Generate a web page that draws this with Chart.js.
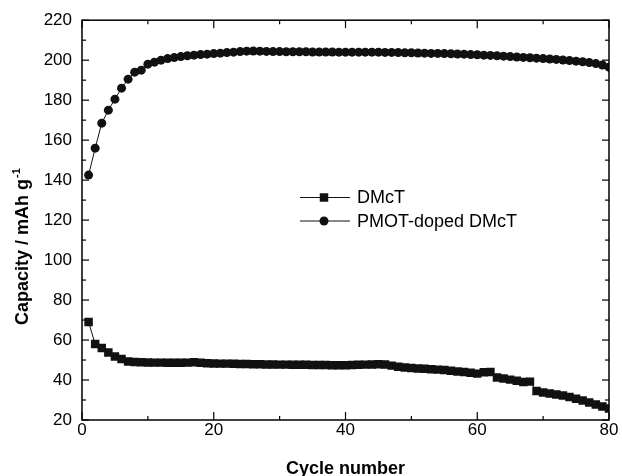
<!DOCTYPE html>
<html>
<head>
<meta charset="utf-8">
<script src="https://cdn.jsdelivr.net/npm/chart.js@4/dist/chart.umd.min.js"></script>
<style>
  html, body { margin: 0; padding: 0; background: #fff; }
  #wrap { width: 622px; height: 476px; position: relative; }
</style>
</head>
<body>
<div id="wrap"><canvas id="cap"></canvas></div>
<script>
// Discharge capacity vs. cycle number, DMcT and PMOT-doped DMcT.
const cycles = [
  1, 2, 3, 4, 5, 6, 7, 8, 9, 10, 11, 12, 13, 14, 15, 16, 17, 18, 19, 20,
  21, 22, 23, 24, 25, 26, 27, 28, 29, 30, 31, 32, 33, 34, 35, 36, 37, 38, 39, 40,
  41, 42, 43, 44, 45, 46, 47, 48, 49, 50, 51, 52, 53, 54, 55, 56, 57, 58, 59, 60,
  61, 62, 63, 64, 65, 66, 67, 68, 69, 70, 71, 72, 73, 74, 75, 76, 77, 78, 79, 80,
];
const dmct = [
  69, 58, 56, 53.8, 51.8, 50.5, 49.3, 49, 48.9, 48.8, 48.7, 48.7, 48.6, 48.6, 48.6, 48.7, 48.9, 48.6, 48.4, 48.3,
  48.2, 48.2, 48.1, 48, 48, 47.9, 47.9, 47.8, 47.8, 47.7, 47.7, 47.6, 47.6, 47.6, 47.5, 47.5, 47.5, 47.4, 47.4, 47.4,
  47.5, 47.6, 47.7, 47.8, 47.9, 47.8, 47.2, 46.6, 46.3, 46, 45.8, 45.6, 45.4, 45.2, 45, 44.6, 44.3, 44, 43.6, 43.2,
  43.9, 44, 41.3, 40.8, 40.2, 39.6, 39, 39.2, 34.5, 33.8, 33.2, 32.7, 32.2, 31.5, 30.6, 29.7, 28.8, 27.8, 26.8, 25.8,
];
const pmotDmct = [
  142.5, 156, 168.5, 175, 180.5, 186, 190.5, 194, 195, 198, 199, 200, 200.8, 201.3, 201.8, 202.2, 202.5, 202.8, 203, 203.3,
  203.5, 203.8, 204, 204.3, 204.5, 204.6, 204.5, 204.4, 204.3, 204.3, 204.2, 204.2, 204.2, 204.2, 204.1, 204.1, 204.1, 204.1, 204, 204,
  204, 204, 204, 204, 204, 203.9, 203.9, 203.8, 203.7, 203.7, 203.6, 203.5, 203.4, 203.4, 203.3, 203.2, 203.1, 203, 202.8, 202.7,
  202.5, 202.4, 202.2, 202, 201.8, 201.6, 201.4, 201.2, 201, 200.8, 200.6, 200.4, 200.1, 199.8, 199.5, 199.2, 198.8, 198.3, 197.6, 196.5,
];
const seriesLabels = ['DMcT', 'PMOT-doped DMcT'];
const xMajor = [0, 20, 40, 60, 80];
const xMinor = [10, 30, 50, 70];
const yMajor = [20, 40, 60, 80, 100, 120, 140, 160, 180, 200, 220];
const yMinor = [30, 50, 70, 90, 110, 130, 150, 170, 190, 210];

const FONT = "'Liberation Sans', Arial, Helvetica, sans-serif";
const INK = '#111';

function pts(ys) {
  return ys.map((v, i) => ({ x: cycles[i], y: v }));
}

function seg(ctx, x1, y1, x2, y2) {
  ctx.beginPath();
  ctx.moveTo(x1, y1);
  ctx.lineTo(x2, y2);
  ctx.stroke();
}

// frame with inward ticks on all four sides, plus titles and the legend
const framePlugin = {
  id: 'frame',
  afterDatasetsDraw(chart) {
    const { ctx, chartArea: a, scales: { x, y } } = chart;
    ctx.save();
    ctx.strokeStyle = '#000';
    ctx.lineWidth = 1.5;
    ctx.strokeRect(a.left, a.top, a.right - a.left, a.bottom - a.top);

    ctx.lineWidth = 1.2;
    xMajor.forEach((v) => {
      const px = x.getPixelForValue(v);
      seg(ctx, px, a.bottom, px, a.bottom - 8);
      seg(ctx, px, a.top, px, a.top + 8);
    });
    xMinor.forEach((v) => {
      const px = x.getPixelForValue(v);
      seg(ctx, px, a.bottom, px, a.bottom - 4);
      seg(ctx, px, a.top, px, a.top + 4);
    });
    yMajor.forEach((v) => {
      const py = y.getPixelForValue(v);
      seg(ctx, a.left, py, a.left + 7, py);
      seg(ctx, a.right, py, a.right - 7, py);
    });
    yMinor.forEach((v) => {
      const py = y.getPixelForValue(v);
      seg(ctx, a.left, py, a.left + 4, py);
      seg(ctx, a.right, py, a.right - 4, py);
    });

    // axis titles
    ctx.fillStyle = '#000';
    ctx.font = `bold 18px ${FONT}`;
    ctx.textAlign = 'center';
    ctx.textBaseline = 'alphabetic';
    ctx.fillText('Cycle number', (a.left + a.right) / 2, 474);

    ctx.save();
    ctx.translate(28, 325);
    ctx.rotate(-Math.PI / 2);
    ctx.textAlign = 'left';
    const main = 'Capacity / mAh g';
    ctx.fillText(main, 0, 0);
    const w = ctx.measureText(main).width;
    ctx.font = `bold 11px ${FONT}`;
    ctx.fillText('-1', w + 1, -8);
    ctx.restore();

    // legend inside the plot
    const rows = [197.5, 221];
    chart.data.datasets.forEach((ds, i) => {
      const ly = rows[i];
      ctx.strokeStyle = INK;
      ctx.lineWidth = 1;
      seg(ctx, 300, ly, 350, ly);
      ctx.fillStyle = INK;
      Chart.helpers.drawPoint(ctx, { pointStyle: ds.pointStyle, radius: ds.pointRadius, rotation: 0, borderWidth: 0 }, 324, ly);
      ctx.fillStyle = '#000';
      ctx.font = `18px ${FONT}`;
      ctx.textAlign = 'left';
      ctx.textBaseline = 'middle';
      ctx.fillText(ds.label, 357, ly + 1);
    });
    ctx.restore();
  },
};

new Chart(document.getElementById('cap'), {
  type: 'line',
  data: {
    datasets: [
      {
        label: seriesLabels[0],
        data: pts(dmct),
        borderColor: INK,
        backgroundColor: INK,
        borderWidth: 1,
        pointStyle: 'rect',
        pointRadius: 6,
        pointBorderWidth: 0,
        tension: 0,
      },
      {
        label: seriesLabels[1],
        data: pts(pmotDmct),
        borderColor: INK,
        backgroundColor: INK,
        borderWidth: 1,
        pointStyle: 'circle',
        pointRadius: 4.5,
        pointBorderWidth: 0,
        tension: 0,
      },
    ],
  },
  options: {
    responsive: true,
    maintainAspectRatio: false,
    animation: false,
    layout: { padding: { top: 19, right: 13, left: 0, bottom: 0 } },
    plugins: { legend: { display: false }, tooltip: { enabled: false } },
    scales: {
      x: {
        type: 'linear',
        min: 0,
        max: 80,
        afterFit: (s) => { s.height = 56; },
        grid: { display: false, drawTicks: false },
        border: { display: false },
        ticks: { stepSize: 20, padding: 0, color: '#000', font: { family: FONT, size: 17 }, maxRotation: 0 },
      },
      y: {
        min: 20,
        max: 220,
        afterFit: (s) => { s.width = 82; },
        grid: { display: false, drawTicks: false },
        border: { display: false },
        ticks: { stepSize: 20, padding: 10, color: '#000', font: { family: FONT, size: 17 } },
      },
    },
  },
  plugins: [framePlugin],
});
</script>
</body>
</html>
